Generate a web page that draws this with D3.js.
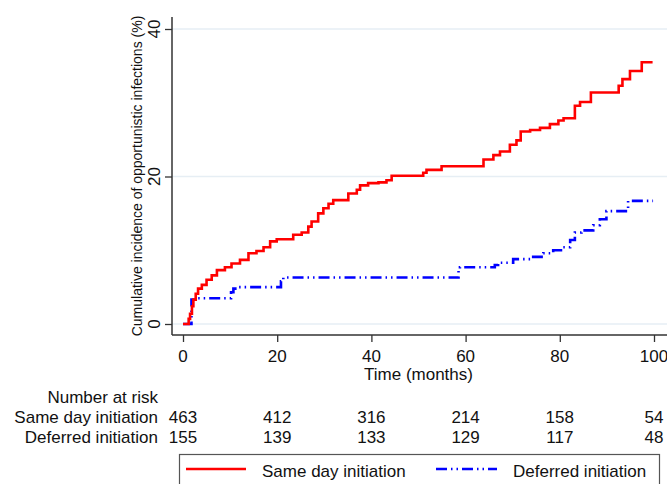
<!DOCTYPE html>
<html>
<head>
<meta charset="utf-8">
<script src="https://cdn.jsdelivr.net/npm/d3@7"></script>
<style>
  body { margin: 0; background: #fff; }
  text { font-family: Arial, "Liberation Sans", sans-serif; fill: #111; }
</style>
</head>
<body>
<svg id="km" width="667" height="484"></svg>
<script>
// cumulative incidence (time in months, value in %)
const sameTimes = [0, 1.2, 1.5, 1.9, 2.2, 2.7, 3.2, 4.0, 5.0, 6.1, 7.2, 8.9, 10.3, 12.1, 13.9, 15.6, 17.1, 18.5, 19.9, 23.4, 25.2, 26.6, 27.3, 28.7, 29.8, 30.9, 31.9, 35.1, 36.9, 37.6, 39.3, 41.5, 43.2, 44.3, 51.0, 51.7, 54.9, 63.8, 65.9, 67.3, 69.4, 70.8, 71.7, 73.7, 75.8, 77.9, 79.7, 80.8, 83.2, 84.3, 86.6, 92.5, 93.3, 94.9, 97.4, 99.7]
const sameValues = [0, 0.7, 1.4, 2.4, 3.3, 4.1, 4.8, 5.3, 6.0, 6.6, 7.3, 7.7, 8.2, 8.7, 9.6, 9.9, 10.4, 11.2, 11.5, 12.1, 12.4, 13.2, 13.9, 15.0, 15.7, 16.3, 16.8, 17.7, 18.2, 18.8, 19.1, 19.2, 19.5, 20.1, 20.5, 20.9, 21.4, 22.3, 22.9, 23.4, 24.3, 24.9, 26.1, 26.3, 26.6, 27.1, 27.6, 27.9, 29.6, 30.1, 31.4, 32.3, 33.2, 34.3, 35.5, 35.5]

const defTimes = [0, 1.8, 2.5, 10.2, 10.7, 11.4, 20.8, 21.3, 58.5, 58.8, 66.2, 66.9, 70.1, 73.7, 76.5, 78.6, 80.7, 82.2, 83.2, 84.6, 87.1, 88.5, 89.9, 94.5, 99.8]
const defValues = [0, 3.3, 3.5, 4.3, 4.8, 5.0, 5.8, 6.3, 7.3, 7.7, 8.0, 8.3, 8.8, 9.1, 9.6, 10.0, 10.4, 11.4, 12.4, 12.7, 13.4, 14.2, 15.3, 16.7, 16.7]

const xTicks = [0, 20, 40, 60, 80, 100]
const yTicks = [0, 20, 40]
const riskSame = [463, 412, 316, 214, 158, 54]
const riskDeferred = [155, 139, 133, 129, 117, 48]

const svg = d3.select('#km')
const W = 667

const x = d3.scaleLinear().domain([0, 100]).range([183, 654])
const y = d3.scaleLinear().domain([0, 40]).range([324, 29])

const axisX = 172 // where the y axis sits
const axisY = 335 // where the x axis sits
const axisColor = '#333'
const fs = 17

// grid lines
svg.append('g')
  .selectAll('line')
  .data(yTicks)
  .enter()
  .append('line')
    .attr('x1', axisX)
    .attr('x2', W)
    .attr('y1', d => y(d))
    .attr('y2', d => y(d))
    .style('stroke', '#e6eef4')
    .style('stroke-width', 1.5)

// y axis
const yAxis = d3.axisLeft(y).tickValues(yTicks).tickSize(7).tickFormat('')
const gy = svg.append('g').attr('transform', `translate(${axisX},0)`).call(yAxis)
gy.select('path.domain').remove()
gy.selectAll('.tick line').style('stroke', axisColor).style('stroke-width', 1.3)

svg.append('line')
  .attr('x1', axisX).attr('x2', axisX)
  .attr('y1', 17).attr('y2', axisY)
  .style('stroke', axisColor).style('stroke-width', 1.5)

svg.selectAll('text.ytick')
  .data(yTicks)
  .enter()
  .append('text')
    .attr('class', 'ytick')
    .attr('x', 160)
    .attr('y', d => y(d))
    .attr('transform', d => `rotate(-90, 160, ${y(d)})`)
    .attr('text-anchor', 'middle')
    .style('font-size', fs + 'px')
    .text(d => d)

svg.append('text')
  .attr('x', 142)
  .attr('y', 176)
  .attr('transform', 'rotate(-90, 142, 176)')
  .attr('text-anchor', 'middle')
  .style('font-size', '14px')
  .text('Cumulative incidence of opportunistic infections (%)')

// x axis
const xAxis = d3.axisBottom(x).tickValues(xTicks).tickSize(7).tickFormat('')
const gx = svg.append('g').attr('transform', `translate(0,${axisY})`).call(xAxis)
gx.select('path.domain').remove()
gx.selectAll('.tick line').style('stroke', axisColor).style('stroke-width', 1.3)

svg.append('line')
  .attr('x1', axisX).attr('x2', W)
  .attr('y1', axisY).attr('y2', axisY)
  .style('stroke', axisColor).style('stroke-width', 1.5)

svg.selectAll('text.xtick')
  .data(xTicks)
  .enter()
  .append('text')
    .attr('class', 'xtick')
    .attr('x', d => x(d))
    .attr('y', 362)
    .attr('text-anchor', 'middle')
    .style('font-size', fs + 'px')
    .text(d => d)

svg.append('text')
  .attr('x', x(50))
  .attr('y', 380)
  .attr('text-anchor', 'middle')
  .style('font-size', fs + 'px')
  .text('Time (months)')

// curves
const line = d3.line()
  .x(d => x(d[0]))
  .y(d => y(d[1]))
  .curve(d3.curveStepAfter)

svg.append('path')
  .datum(d3.zip(defTimes, defValues))
  .attr('d', line)
  .style('fill', 'none')
  .style('stroke', '#0000ff')
  .style('stroke-width', 2.6)
  .style('stroke-dasharray', '11 4 1.5 4 1.5 4')

svg.append('path')
  .datum(d3.zip(sameTimes, sameValues))
  .attr('d', line)
  .style('fill', 'none')
  .style('stroke', '#ff0000')
  .style('stroke-width', 2.6)

// number at risk table
const rows = [
  { label: 'Same day initiation', values: riskSame, y: 423 },
  { label: 'Deferred initiation', values: riskDeferred, y: 443 }
]

svg.append('text')
  .attr('x', 158).attr('y', 403)
  .attr('text-anchor', 'end')
  .style('font-size', fs + 'px')
  .text('Number at risk')

rows.forEach(r => {
  svg.append('text')
    .attr('x', 158).attr('y', r.y)
    .attr('text-anchor', 'end')
    .style('font-size', fs + 'px')
    .text(r.label)

  svg.selectAll(null)
    .data(r.values)
    .enter()
    .append('text')
      .attr('x', (d, i) => x(xTicks[i]))
      .attr('y', r.y)
      .attr('text-anchor', 'middle')
      .style('font-size', fs + 'px')
      .text(d => d)
})

// legend
svg.append('rect')
  .attr('x', 179.5).attr('y', 454.5)
  .attr('width', 480).attr('height', 60)
  .style('fill', '#fff')
  .style('stroke', '#555')
  .style('stroke-width', 1.2)

const legendItems = [
  { label: 'Same day initiation', color: '#ff0000', dash: null, x1: 186, x2: 246, tx: 262 },
  { label: 'Deferred initiation', color: '#0000ff', dash: '11 4 1.5 4 1.5 4', x1: 436, x2: 497, tx: 513 }
]

legendItems.forEach(l => {
  svg.append('line')
    .attr('x1', l.x1).attr('x2', l.x2)
    .attr('y1', 469).attr('y2', 469)
    .style('stroke', l.color)
    .style('stroke-width', 2.6)
    .style('stroke-dasharray', l.dash)
  svg.append('text')
    .attr('x', l.tx).attr('y', 477)
    .style('font-size', fs + 'px')
    .text(l.label)
})
</script>
</body>
</html>
